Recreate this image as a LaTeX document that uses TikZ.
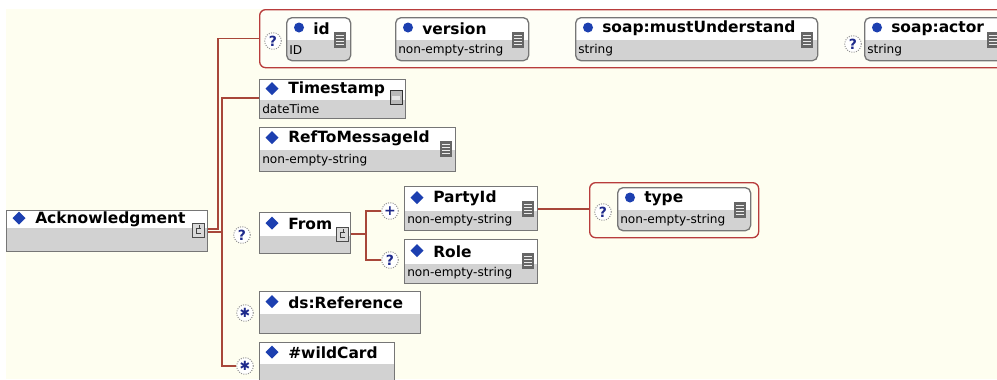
\documentclass[tikz,border=0pt]{standalone}
\usepackage{fontspec}
\newfontfamily\uifont{DejaVu Sans}
\usetikzlibrary{calc}

\definecolor{panel}{HTML}{FEFEF0}
\definecolor{connred}{HTML}{A8473A}
\definecolor{grpred}{HTML}{B83C3C}
\definecolor{edgegray}{HTML}{767676}
\definecolor{bandgray}{HTML}{D2D2D2}
\definecolor{diablue}{HTML}{1C3FB0}
\definecolor{qblue}{HTML}{1E2A8C}
\definecolor{icongray}{HTML}{666666}

\tikzset{
  conn/.style={draw=connred, line width=1pt},
  boxframe/.style={draw=edgegray, line width=1pt, inner sep=0, anchor=north west},
  lbl/.style={font=\uifont\bfseries\fontsize{11.6}{13}\selectfont, anchor=west, inner sep=0},
  typ/.style={font=\uifont\fontsize{9.1}{10}\selectfont, anchor=west, inner sep=0},
  badge/.style={circle, draw=gray!85, densely dotted, fill=white, line width=0.75pt,
    minimum size=12.5pt, inner sep=0, text=qblue, font=\uifont\bfseries\fontsize{10.5}{10.5}\selectfont},
  grp/.style={draw=grpred, line width=1pt, rounded corners=4.5pt, inner sep=0, anchor=north west},
}

% element box: name, left, top, right, bottom, band split, label, type
\newcommand{\elem}[8]{%
  \fill[white] (#2,#3) rectangle (#4,#6);
  \fill[bandgray] (#2,#6) rectangle (#4,#5);
  \node[boxframe, minimum width={(#4-#2)*0.75pt}, minimum height={(#5-#3)*0.75pt}] (#1) at (#2,#3) {};
  \fill[diablue] (#2+13,{(#3+#6)/2-1}) +(0,-6.5) -- +(6.5,0) -- +(0,6.5) -- +(-6.5,0) -- cycle;
  \node[lbl] (#1-l) at (#2+29,{(#3+#6)/2}) {#7};
  \node[typ] (#1-t) at (#2+3,{(#6+#5)/2}) {#8};
}

% attribute box: same arguments, rounded, with a round marker
\newcommand{\attr}[8]{%
  \begin{scope}
    \clip[rounded corners=4pt] (#2,#3) rectangle (#4,#5);
    \fill[white] (#2,#3) rectangle (#4,#6);
    \fill[bandgray] (#2,#6) rectangle (#4,#5);
  \end{scope}
  \node[boxframe, rounded corners=4pt, minimum width={(#4-#2)*0.75pt}, minimum height={(#5-#3)*0.75pt}] (#1) at (#2,#3) {};
  \fill[diablue] (#2+13,{(#3+#6)/2-1}) circle (5);
  \node[lbl] (#1-l) at (#2+27,{(#3+#6)/2}) {#7};
  \node[typ] (#1-t) at (#2+3,{(#6+#5)/2}) {#8};
}

% simple type icon (centre)
\newcommand{\stype}[2]{%
  \fill[icongray] (#1-6,#2-8) rectangle (#1+6,#2+8);
  \foreach \d in {-4.5,-1.5,1.5,4.5}
    \draw[white!85!gray, line width=0.7pt] (#1-4,#2+\d) -- (#1+4,#2+\d);
}

% compositor (child list) icon
\newcommand{\cmpicon}[2]{%
  \filldraw[fill=gray!30, draw=gray!60!black, line width=0.6pt] (#1-6,#2-7) rectangle (#1+6,#2+7);
  \draw[black!75, line width=0.6pt] (#1+3,#2-2) -- (#1-2,#2-2) -- (#1-2,#2+3) -- (#1+3,#2+3);
  \draw[black!75, line width=0.6pt] (#1+1,#2-5) -- (#1+1,#2-2);
}

% date type icon
\newcommand{\dateicon}[2]{%
  \filldraw[fill=gray!55, draw=gray!40!black, line width=0.6pt] (#1-6,#2-7) rectangle (#1+6,#2+7);
  \fill[gray!20] (#1-4,#2-1) rectangle (#1+4,#2+3);
}

\begin{document}
\begin{tikzpicture}[x=0.75pt, y=-0.75pt]
  \useasboundingbox (0,0) rectangle (997,379);
  \clip (0,0) rectangle (997,379);
  \fill[white] (0,0) rectangle (997,379);
  \fill[panel] (6,9) rectangle (997,379);

  % attribute group of the header
  \node[grp, fill=panel!60!white, minimum width={(1010-259)*0.75pt}, minimum height={(67-9)*0.75pt}] (attrs) at (259,9) {};
  \node[badge] (qid) at (273,41) {?};
  \attr{aid}{286}{17}{350}{60}{40}{id}{ID}
  \stype{340}{40}
  \attr{aver}{395}{17}{528}{60}{40}{version}{non-empty-string}
  \stype{518}{40}
  \attr{amu}{575}{17}{817}{60}{40}{soap:mustUnderstand}{string}
  \stype{807}{40}
  \node[badge] (qact) at (853,44) {?};
  \attr{aact}{864}{17}{1010}{60}{40}{soap:actor}{string}
  \stype{993}{40}

  % root element
  \elem{ack}{6}{210}{207}{251}{228}{Acknowledgment}{}
  \cmpicon{198}{230}

  % children
  \elem{ts}{259}{79}{405}{118}{100}{Timestamp}{dateTime}
  \dateicon{396}{97}
  \elem{ref}{259}{127}{455}{171}{150}{RefToMessageId}{non-empty-string}
  \stype{446}{149}
  \node[badge] (qfrom) at (242,235) {?};
  \elem{from}{259}{212}{350}{253}{236}{From}{}
  \cmpicon{342}{234}
  \node[badge] (sref) at (245,313) {\fontsize{9.5}{9.5}\selectfont ✱};
  \elem{dsref}{259}{291}{420}{333}{314}{ds:Reference}{}
  \node[badge] (swc) at (245,366) {\fontsize{9.5}{9.5}\selectfont ✱};
  \elem{wc}{259}{342}{394}{392}{364}{\#wildCard}{}

  % children of From
  \node[badge] (ppid) at (390,211) {+};
  \elem{pid}{404}{186}{537}{230}{211}{PartyId}{non-empty-string}
  \stype{528}{209}
  \node[badge] (qrole) at (390,260) {?};
  \elem{role}{404}{239}{537}{283}{264}{Role}{non-empty-string}
  \stype{528}{261}

  % attribute group of PartyId
  \node[grp, minimum width={(758-589)*0.75pt}, minimum height={(237-182)*0.75pt}] (typegrp) at (589,182) {};
  \node[badge] (qtype) at (603,212) {?};
  \attr{atype}{617}{187}{750}{230}{210}{type}{non-empty-string}
  \stype{740}{210}

  % connectors of the root sequence
  \coordinate (jA) at (218,229);
  \coordinate (jB) at (222,232);
  \coordinate (jT) at (222,98);
  \draw[conn] (ack.east |- jA) -- (jA) |- (attrs.west);
  \draw[conn] (ack.east |- jB) -- (jB) -- (jT) -- (ts.west |- jT);
  \draw[conn] (jB) |- (swc.west);

  % connectors of From
  \coordinate (jF) at (366,234);
  \draw[conn] (from.east |- jF) -- (jF);
  \draw[conn] (jF) |- (ppid.west);
  \draw[conn] (jF) |- (qrole.west);

  % PartyId to its attributes
  \draw[conn] (pid.east |- 0,209) -- (typegrp.west |- 0,209);
\end{tikzpicture}
\end{document}
